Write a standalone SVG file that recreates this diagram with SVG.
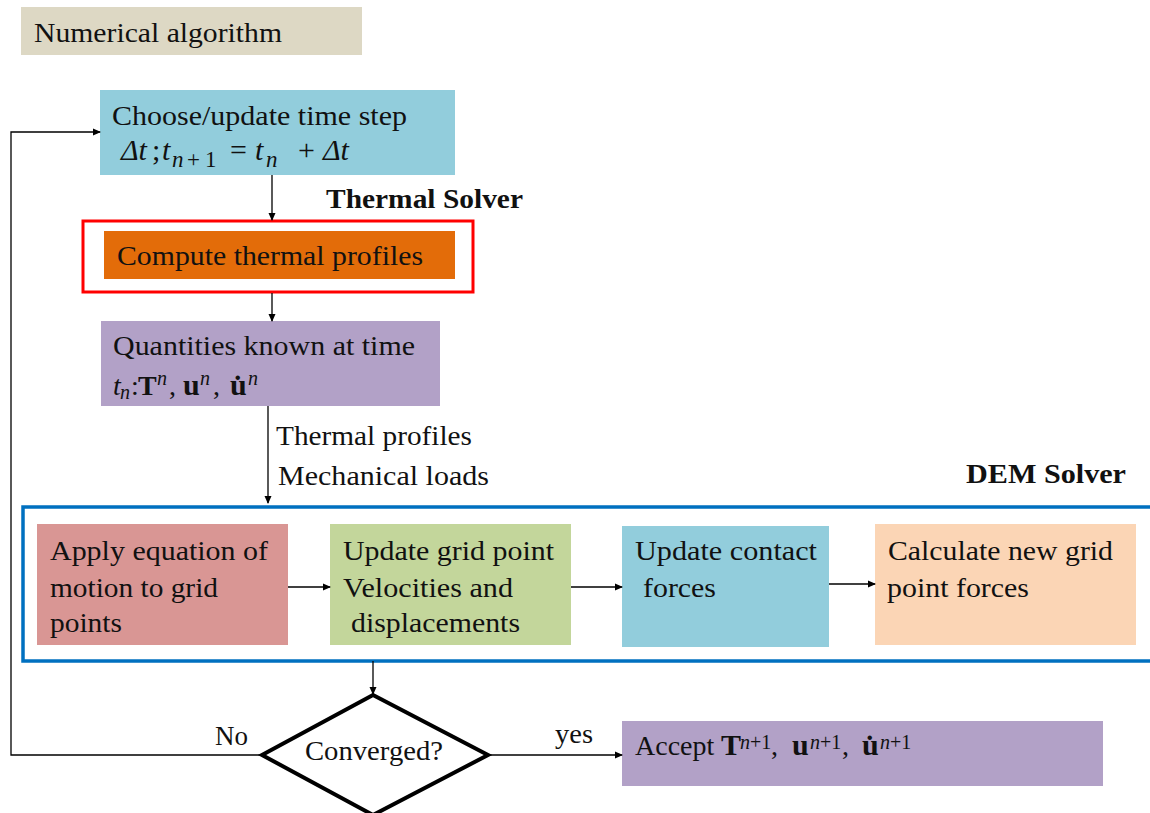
<svg xmlns="http://www.w3.org/2000/svg" width="1150" height="813" viewBox="0 0 1150 813">
<defs>
<marker id="ah" markerWidth="8" markerHeight="8" refX="7" refY="4" orient="auto" markerUnits="userSpaceOnUse">
<path d="M0,0.5 L8,4 L0,7.5 z" fill="#000"/>
</marker>
<style>
text{font-family:"Liberation Serif","Times New Roman",serif;fill:#111;font-size:28px}
text.lbl{font-size:27px}
text.math{font-size:30px}
.b{font-weight:bold}
.i{font-style:italic}
.s{font-size:20px}
.m{font-size:23px}
.big{font-size:30px}
.ln{fill:none;stroke:#000;stroke-width:1.3}
</style>
</defs>
<rect width="1150" height="813" fill="#fff"/>

<g id="title">
<rect x="21" y="7" width="341" height="48" fill="#ddd8c4"/>
<text x="34" y="42" textLength="248" lengthAdjust="spacingAndGlyphs">Numerical algorithm</text>
</g>

<g id="choose">
<rect x="100" y="90" width="355" height="85" fill="#92cddc"/>
<text x="112" y="125" textLength="295" lengthAdjust="spacingAndGlyphs">Choose/update time step</text>
<text class="math" y="160"><tspan class="i" x="121">Δt</tspan><tspan x="152">;</tspan><tspan class="i" x="162">t</tspan><tspan class="i m" x="172" y="167">n</tspan><tspan class="m" x="187">+</tspan><tspan class="m" x="205">1</tspan><tspan x="230" y="160">=</tspan><tspan class="i" x="255">t</tspan><tspan class="i m" x="266" y="167">n</tspan><tspan x="298" y="160">+</tspan><tspan class="i" x="323">Δt</tspan></text>
</g>

<g id="thermal-label">
<text class="b" x="326" y="208" textLength="197" lengthAdjust="spacingAndGlyphs">Thermal Solver</text>
</g>

<g id="compute">
<rect x="83" y="221" width="390" height="71" fill="none" stroke="#ff0000" stroke-width="3"/>
<rect x="104" y="231" width="351" height="48" fill="#e36c09"/>
<text x="117" y="265" textLength="306" lengthAdjust="spacingAndGlyphs">Compute thermal profiles</text>
</g>

<g id="quantities">
<rect x="101" y="321" width="339" height="85" fill="#b2a1c7"/>
<text x="113" y="355" textLength="302" lengthAdjust="spacingAndGlyphs">Quantities known at time</text>
<text y="395"><tspan class="i" x="113">t</tspan><tspan class="i s" x="120" y="399">n</tspan><tspan x="131" y="395">:</tspan><tspan class="b" x="138">T</tspan><tspan class="i s" x="157" y="385">n</tspan><tspan x="169" y="395">,</tspan><tspan class="b big" x="183">u</tspan><tspan class="i s" x="200" y="385">n</tspan><tspan x="213" y="395">,</tspan><tspan class="b big" x="230">u̇</tspan><tspan class="i s" x="248" y="385">n</tspan></text>
</g>

<g id="dem-label">
<text class="b" x="966" y="483" textLength="160" lengthAdjust="spacingAndGlyphs">DEM Solver</text>
</g>

<g id="dem-frame">
<rect x="23" y="507" width="1140" height="154" fill="none" stroke="#0070c0" stroke-width="3.5"/>
</g>

<g id="apply">
<rect x="37" y="524" width="251" height="121" fill="#d99694"/>
<text x="50" y="560" textLength="218" lengthAdjust="spacingAndGlyphs">Apply equation of</text>
<text x="50" y="597" textLength="168" lengthAdjust="spacingAndGlyphs">motion to grid</text>
<text x="50" y="632" textLength="72" lengthAdjust="spacingAndGlyphs">points</text>
</g>

<g id="update-grid">
<rect x="330" y="524" width="241" height="121" fill="#c3d69b"/>
<text x="343" y="560" textLength="211" lengthAdjust="spacingAndGlyphs">Update grid point</text>
<text x="343" y="597" textLength="170" lengthAdjust="spacingAndGlyphs">Velocities  and</text>
<text x="351" y="632" textLength="169" lengthAdjust="spacingAndGlyphs">displacements</text>
</g>

<g id="update-contact">
<rect x="622" y="526" width="207" height="121" fill="#92cddc"/>
<text x="635" y="560" textLength="182" lengthAdjust="spacingAndGlyphs">Update contact</text>
<text x="643" y="597" textLength="73" lengthAdjust="spacingAndGlyphs">forces</text>
</g>

<g id="calculate">
<rect x="875" y="524" width="261" height="121" fill="#fbd5b5"/>
<text x="888" y="560" textLength="225" lengthAdjust="spacingAndGlyphs">Calculate new grid</text>
<text x="887" y="597" textLength="142" lengthAdjust="spacingAndGlyphs">point forces</text>
</g>

<g id="converged">
<polygon points="373,695 488,755 373,815 262,755" fill="#fff" stroke="#000" stroke-width="4" stroke-linejoin="miter"/>
<text x="305" y="760" textLength="138" lengthAdjust="spacingAndGlyphs">Converged?</text>
</g>

<g id="accept">
<rect x="622" y="721" width="481" height="65" fill="#b2a1c7"/>
<text y="755"><tspan x="635">Accept</tspan><tspan class="b big" x="721">T</tspan><tspan class="i s" x="740" y="749">n</tspan><tspan class="s" x="750">+1</tspan><tspan x="771" y="755">,</tspan><tspan class="b big" x="792">u</tspan><tspan class="i s" x="810" y="749">n</tspan><tspan class="s" x="820">+1</tspan><tspan x="842" y="755">,</tspan><tspan class="b big" x="862">u̇</tspan><tspan class="i s" x="880" y="749">n</tspan><tspan class="s" x="890">+1</tspan></text>
</g>

<g id="connectors">
<line class="ln" x1="272" y1="175" x2="272" y2="220" marker-end="url(#ah)"/>
<line class="ln" x1="272" y1="293" x2="272" y2="321" marker-end="url(#ah)"/>
<line class="ln" x1="268" y1="406" x2="268" y2="503" marker-end="url(#ah)"/>
<line class="ln" x1="288" y1="587" x2="330" y2="587" marker-end="url(#ah)"/>
<line class="ln" x1="571" y1="587" x2="622" y2="587" marker-end="url(#ah)"/>
<line class="ln" x1="829" y1="584" x2="875" y2="584" marker-end="url(#ah)"/>
<line class="ln" x1="373" y1="661" x2="373" y2="694" marker-end="url(#ah)"/>
<polyline class="ln" points="262,755 11,755 11,132 100,132" marker-end="url(#ah)"/>
<line class="ln" x1="488" y1="755" x2="622" y2="755" marker-end="url(#ah)"/>
<text class="lbl" x="276" y="445" textLength="196" lengthAdjust="spacingAndGlyphs">Thermal profiles</text>
<text class="lbl" x="278" y="485" textLength="211" lengthAdjust="spacingAndGlyphs">Mechanical loads</text>
<text class="lbl" x="215" y="745" textLength="33" lengthAdjust="spacingAndGlyphs">No</text>
<text class="lbl" x="555" y="743" textLength="38" lengthAdjust="spacingAndGlyphs">yes</text>
</g>
</svg>
